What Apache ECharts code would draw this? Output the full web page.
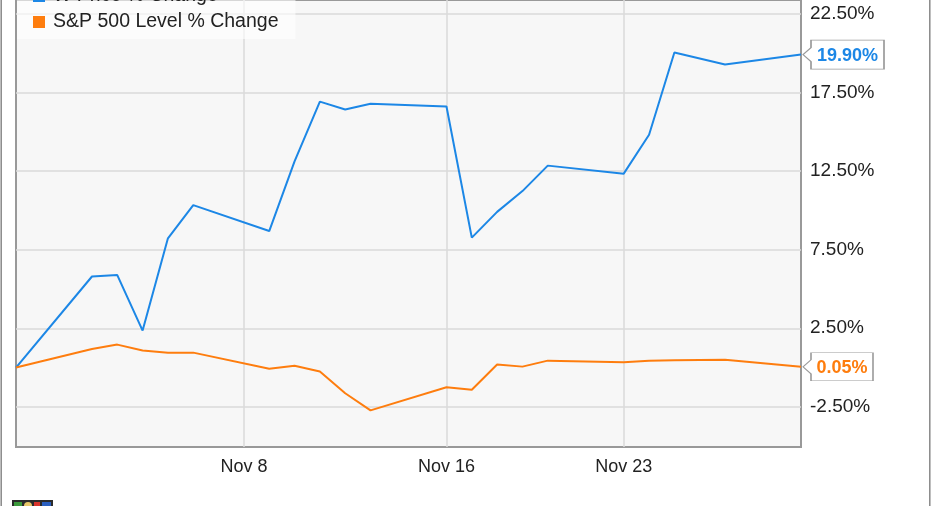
<!DOCTYPE html>
<html>
<head>
<meta charset="utf-8">
<script src="https://cdn.jsdelivr.net/npm/echarts@6/dist/echarts.min.js"></script>
<style>
html,body{margin:0;padding:0;background:#fff;}
#chart{width:931px;height:506px;}
</style>
</head>
<body>
<div id="chart"></div>
<script>
// ---- data ----
var dates = ['2015-10-30','2015-11-02','2015-11-03','2015-11-04','2015-11-05','2015-11-06',
  '2015-11-09','2015-11-10','2015-11-11','2015-11-12','2015-11-13',
  '2015-11-16','2015-11-17','2015-11-18','2015-11-19','2015-11-20',
  '2015-11-23','2015-11-24','2015-11-25','2015-11-27','2015-11-30'];
var stockName = 'W Price % Change';
var stockValues = [0, 5.79, 5.88, 2.35, 8.22, 10.33, 8.68, 13.11, 16.91, 16.41, 16.77,
  16.60, 8.26, 9.90, 11.22, 12.84, 12.33, 14.80, 20.03, 19.27, 19.90];
var spxName = 'S&P 500 Level % Change';
var spxValues = [0, 1.18, 1.46, 1.08, 0.95, 0.95, -0.08, 0.11, -0.25, -1.63, -2.72,
  -1.25, -1.41, 0.19, 0.06, 0.44, 0.34, 0.44, 0.47, 0.49, 0.05];
var xTickDates = ['2015-11-08','2015-11-16','2015-11-23'];
var xTickLabels = ['Nov 8','Nov 16','Nov 23'];
var yTickValues = [-2.5, 2.5, 7.5, 12.5, 17.5, 22.5];
var xRange = ['2015-10-30','2015-11-30'];
var yRange = [-5.05, 23.37];

// ---- helpers ----
// dates are mapped to day numbers counted from the first date (calendar days)
var DAY = 86400000;
function dayNum(s){ var p = s.split('-'); return Math.round((Date.UTC(+p[0], +p[1]-1, +p[2]) - Date.UTC(2015, 9, 30)) / DAY); }
function pairs(vals){ return dates.map(function(d,i){ return [dayNum(d), vals[i]]; }); }
var xTickNums = xTickDates.map(dayNum);
var FONT = '"Liberation Sans", Arial, sans-serif';
var BLUE = '#1c87e6', ORANGE = '#fe7d0e';

function callout(color, w, h, vals){
  var last = vals.length - 1;
  var p = 8, a = 7;
  var path = 'path://M0,' + (h/2) + ' L' + p + ',' + (h/2 - a) + ' L' + p + ',0 L' + w + ',0 L' + w + ',' + h +
    ' L' + p + ',' + h + ' L' + p + ',' + (h/2 + a) + ' Z';
  return {
    symbol: path,
    symbolSize: [w, h],
    symbolOffset: [w/2 + 2, 0],
    silent: true,
    itemStyle: { color: '#fff', borderColor: '#999', borderWidth: 1 },
    label: {
      show: true, position: 'inside', offset: [4, 1],
      color: color, fontWeight: 'bold', fontSize: 18, fontFamily: FONT,
      formatter: function(pr){ return pr.value.toFixed(2) + '%'; }
    },
    data: [{ coord: [dayNum(dates[last]), vals[last]], value: vals[last] }]
  };
}

var chart = echarts.init(document.getElementById('chart'), null, {renderer: 'canvas'});
chart.setOption({
  animation: false,
  backgroundColor: '#fff',
  textStyle: { fontFamily: FONT },
  grid: {
    left: 16, right: 130, top: -2, bottom: 59,
    show: true, backgroundColor: '#f7f7f7', borderColor: '#999', borderWidth: 2
  },
  legend: {
    orient: 'vertical', left: 17, top: -14,
    padding: [0, 17, 7, 16], itemGap: 6,
    backgroundColor: 'rgba(255,255,255,0.6)',
    icon: 'rect', itemWidth: 12, itemHeight: 12,
    textStyle: { fontSize: 19.5, color: '#222', fontFamily: FONT, padding: [0, 0, 0, 3] },
    data: [stockName, spxName]
  },
  xAxis: {
    type: 'value',
    min: dayNum(xRange[0]), max: dayNum(xRange[1]),
    axisLine: { show: false },
    axisTick: { show: false, customValues: xTickNums },
    axisLabel: {
      customValues: xTickNums, margin: 11,
      fontSize: 18, color: '#222', fontFamily: FONT,
      formatter: function(v){ var i = xTickNums.indexOf(Math.round(v)); return i >= 0 ? xTickLabels[i] : ''; }
    },
    splitLine: { show: true, lineStyle: { color: '#dadada', width: 1.5 } }
  },
  yAxis: {
    type: 'value', position: 'right',
    min: yRange[0], max: yRange[1],
    axisLine: { show: false },
    axisTick: { show: false, customValues: yTickValues },
    axisLabel: {
      customValues: yTickValues, margin: 9,
      fontSize: 19, color: '#222', fontFamily: FONT,
      formatter: function(v){ return v.toFixed(2) + '%'; }
    },
    splitLine: { show: true, lineStyle: { color: '#dadada', width: 1.5 } }
  },
  series: [
    {
      name: stockName, type: 'line', data: pairs(stockValues),
      showSymbol: false, color: BLUE, lineStyle: { width: 2, color: BLUE },
      markPoint: callout(BLUE, 81, 29, stockValues)
    },
    {
      name: spxName, type: 'line', data: pairs(spxValues),
      showSymbol: false, color: ORANGE, lineStyle: { width: 2, color: ORANGE },
      markPoint: callout(ORANGE, 70, 28, spxValues)
    }
  ],
  graphic: [
    { type: 'line', shape: { x1: 1.2, y1: 0, x2: 1.2, y2: 506 }, style: { stroke: '#888', lineWidth: 1.5 }, silent: true },
    { type: 'line', shape: { x1: 929.8, y1: 0, x2: 929.8, y2: 506 }, style: { stroke: '#888', lineWidth: 1.5 }, silent: true },
    { type: 'group', left: 12, top: 500, silent: true, children: [
      { type: 'rect', shape: { x: 0, y: 0, width: 41, height: 8 }, style: { fill: '#2b2b2b' } },
      { type: 'rect', shape: { x: 2, y: 2, width: 8, height: 6 }, style: { fill: '#3c9a3c' } },
      { type: 'circle', shape: { cx: 16, cy: 6, r: 4 }, style: { fill: '#e8c86a' } },
      { type: 'rect', shape: { x: 22, y: 2, width: 6, height: 6 }, style: { fill: '#d8342c' } },
      { type: 'rect', shape: { x: 30, y: 2, width: 9, height: 6 }, style: { fill: '#2a5fc0' } }
    ]}
  ]
});
</script>
</body>
</html>
